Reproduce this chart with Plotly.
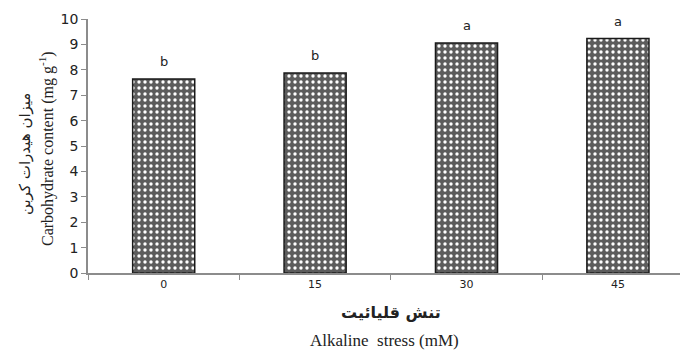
import plotly.graph_objects as go

# Carbohydrate content under alkaline stress
stress_levels = ["0", "15", "30", "45"]
carbohydrate = [7.64, 7.87, 9.06, 9.23]
letters = ["b", "b", "a", "a"]
y_ticks = list(range(0, 11))

fig = go.Figure()
fig.add_trace(go.Bar(
    x=stress_levels,
    y=carbohydrate,
    width=0.41,
    marker=dict(
        color="#606060",
        line=dict(color="#1a1a1a", width=1.5),
        pattern=dict(shape=".", fillmode="replace", bgcolor="#5c5c5c",
                     fgcolor="#ffffff", size=6, solidity=0.25),
    ),
    showlegend=False,
    hoverinfo="skip",
))

# significance letters above bars (category index positions)
for i, (v, t) in enumerate(zip(carbohydrate, letters)):
    fig.add_annotation(x=i, y=v, text=t, showarrow=False, yanchor="bottom",
                       yshift=8, font=dict(family="DejaVu Sans", size=13, color="#222"))

axis_col = "#8c8c8c"
fig.update_layout(
    width=687, height=351,
    margin=dict(l=88, r=7, t=19, b=78),
    plot_bgcolor="white", paper_bgcolor="white",
    xaxis=dict(
        type="category", range=[-0.5, 3.41],
        showline=True, linecolor=axis_col, linewidth=1.5,
        ticks="outside", tickson="boundaries", ticklen=5, tickcolor=axis_col,
        tickfont=dict(family="DejaVu Sans", size=11, color="#222"),
        showgrid=False, zeroline=False,
    ),
    yaxis=dict(
        range=[0, 10], tickvals=y_ticks,
        showline=True, linecolor=axis_col, linewidth=1.5,
        ticks="outside", ticklen=5, tickcolor=axis_col,
        tickfont=dict(family="DejaVu Sans", size=14, color="#222"),
        showgrid=False, zeroline=False,
    ),
)

# axis titles (Persian and English)
fig.add_annotation(xref="paper", yref="paper", x=0, y=0.5, xanchor="center",
                   yanchor="middle", xshift=-63, yshift=-8,
                   text="میزان هیدرات کربن", textangle=-90, showarrow=False,
                   font=dict(family="DejaVu Sans", size=15, color="#222"))
fig.add_annotation(xref="paper", yref="paper", x=0, y=0.5, xanchor="center",
                   yanchor="middle", xshift=-42, yshift=-3,
                   text="Carbohydrate content (mg g<sup>-1</sup>)", textangle=-90,
                   showarrow=False,
                   font=dict(family="Liberation Serif", size=16, color="#222"))
fig.add_annotation(xref="paper", yref="paper", x=0.5, y=0, xanchor="center",
                   yanchor="middle", xshift=7, yshift=-39,
                   text="<b>تنش قلیائیت</b>", showarrow=False,
                   font=dict(family="DejaVu Sans", size=16, color="#222"))
fig.add_annotation(xref="paper", yref="paper", x=0.5, y=0, xanchor="center",
                   yanchor="middle", yshift=-67,
                   text="Alkaline  stress (mM)", showarrow=False,
                   font=dict(family="Liberation Serif", size=17, color="#222"))

fig.write_html("out.html")
